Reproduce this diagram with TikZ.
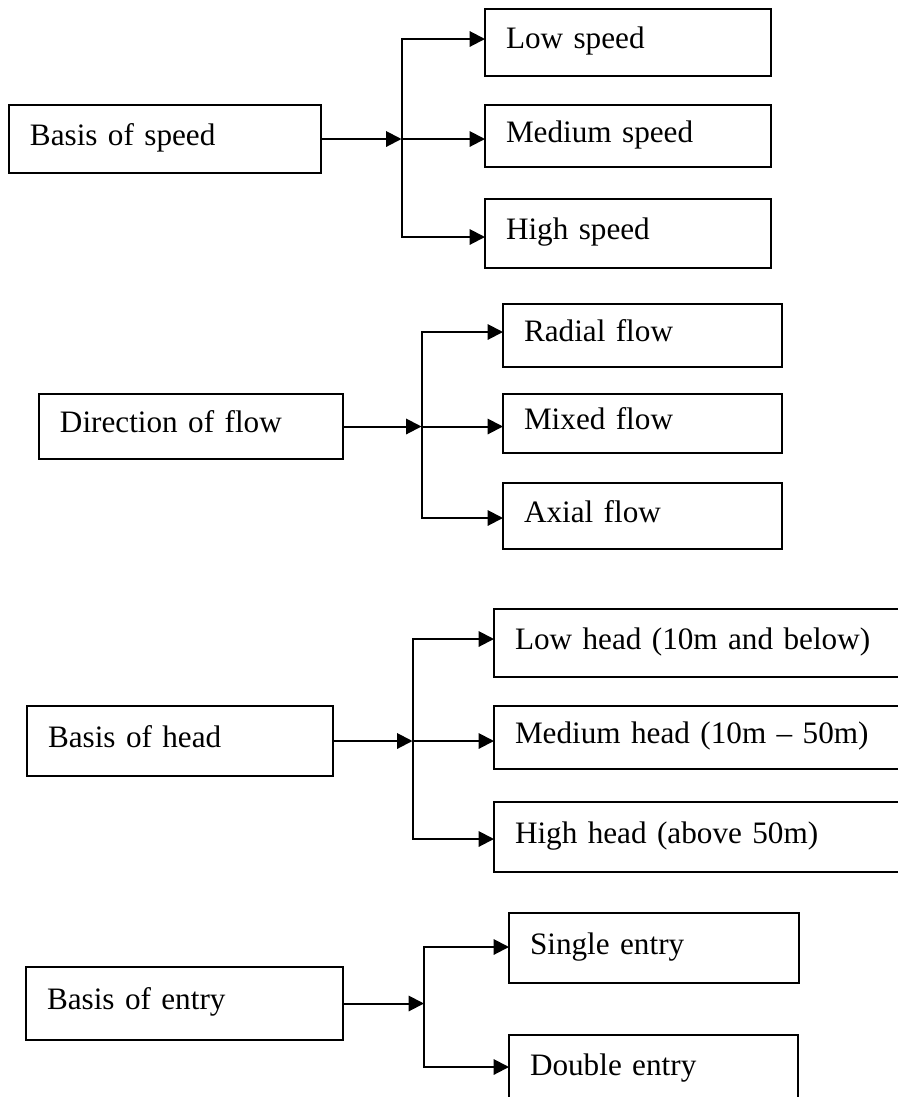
\documentclass[tikz,border=0pt]{standalone}
\usepackage{fontspec}
\setmainfont{Liberation Serif}
\usetikzlibrary{arrows.meta}
\tikzset{
  box/.style={draw, line width=1pt, inner xsep=15.75pt, inner ysep=0pt, outer sep=0pt,
    align=left, text height=15.5pt, text depth=6.5pt,
    font=\fontsize{23.4pt}{27pt}\selectfont},
  conn/.style={line width=1.5pt, line join=miter},
  arr/.style={conn, -{Triangle[length=11.5pt,width=11.5pt]}}
}
\newcommand\mybox[6]{%
  \pgfmathsetmacro\myBW{(#4-#2)*0.75}%
  \pgfmathsetmacro\myBH{(#5-#3)*0.75}%
  \pgfmathsetmacro\myTW{(#4-#2-42)*0.75}%
  \node[box, minimum width=\myBW pt, minimum height=\myBH pt, text width=\myTW pt, anchor=north west] (#1) at (#2,#3) {#6};%
}
\begin{document}
\begin{tikzpicture}[x=0.75pt, y=-0.75pt]
\useasboundingbox (0,0) rectangle (898,1097);
\fill[white] (0,0) rectangle (898,1097);
\clip (0,0) rectangle (898,1097);

% Group 1
\mybox{P1}{9}{105}{321}{173}{Basis of speed}
\mybox{C1a}{485}{9}{771}{76}{Low speed}
\mybox{C1b}{485}{105}{771}{167}{Medium speed}
\mybox{C1c}{485}{199}{771}{268}{High speed}
\coordinate (b1) at (401.5,139);
\coordinate (b1t) at (401.5,39);
\coordinate (b1b) at (401.5,237);
\draw[arr] (P1.east) -- (b1);
\draw[arr] (b1) -- (b1t) -- (b1t -| C1a.west);
\draw[arr] (b1) -- (b1 -| C1b.west);
\draw[arr] (b1) -- (b1b) -- (b1b -| C1c.west);

% Group 2
\mybox{P2}{39}{394}{343}{459}{Direction of flow}
\mybox{C2a}{503}{304}{782}{367}{Radial flow}
\mybox{C2b}{503}{394}{782}{453}{Mixed flow}
\mybox{C2c}{503}{483}{782}{549}{Axial flow}
\coordinate (b2) at (421.5,426.5);
\coordinate (b2t) at (421.5,332);
\coordinate (b2b) at (421.5,518);
\draw[arr] (P2.east) -- (b2);
\draw[arr] (b2) -- (b2t) -- (b2t -| C2a.west);
\draw[arr] (b2) -- (b2 -| C2b.west);
\draw[arr] (b2) -- (b2b) -- (b2b -| C2c.west);

% Group 3
\mybox{P3}{27}{706}{333}{776}{Basis of head}
\mybox{C3a}{494}{609}{920}{677}{Low head (10m and below)}
\mybox{C3b}{494}{706}{920}{769}{Medium head (10m – 50m)}
\mybox{C3c}{494}{802}{920}{872}{High head (above 50m)}
\coordinate (b3) at (412.5,741);
\coordinate (b3t) at (412.5,639);
\coordinate (b3b) at (412.5,839);
\draw[arr] (P3.east) -- (b3);
\draw[arr] (b3) -- (b3t) -- (b3t -| C3a.west);
\draw[arr] (b3) -- (b3 -| C3b.west);
\draw[arr] (b3) -- (b3b) -- (b3b -| C3c.west);

% Group 4
\mybox{P4}{26}{967}{343}{1040}{Basis of entry}
\mybox{C4a}{509}{913}{799}{983}{Single entry}
\mybox{C4b}{509}{1035}{798}{1103}{Double entry}
\coordinate (b4) at (424,1003.5);
\coordinate (b4t) at (424,947);
\coordinate (b4b) at (424,1067);
\draw[arr] (P4.east) -- (b4);
\draw[arr] (b4) -- (b4t) -- (b4t -| C4a.west);
\draw[arr] (b4) -- (b4b) -- (b4b -| C4b.west);
\end{tikzpicture}
\end{document}
